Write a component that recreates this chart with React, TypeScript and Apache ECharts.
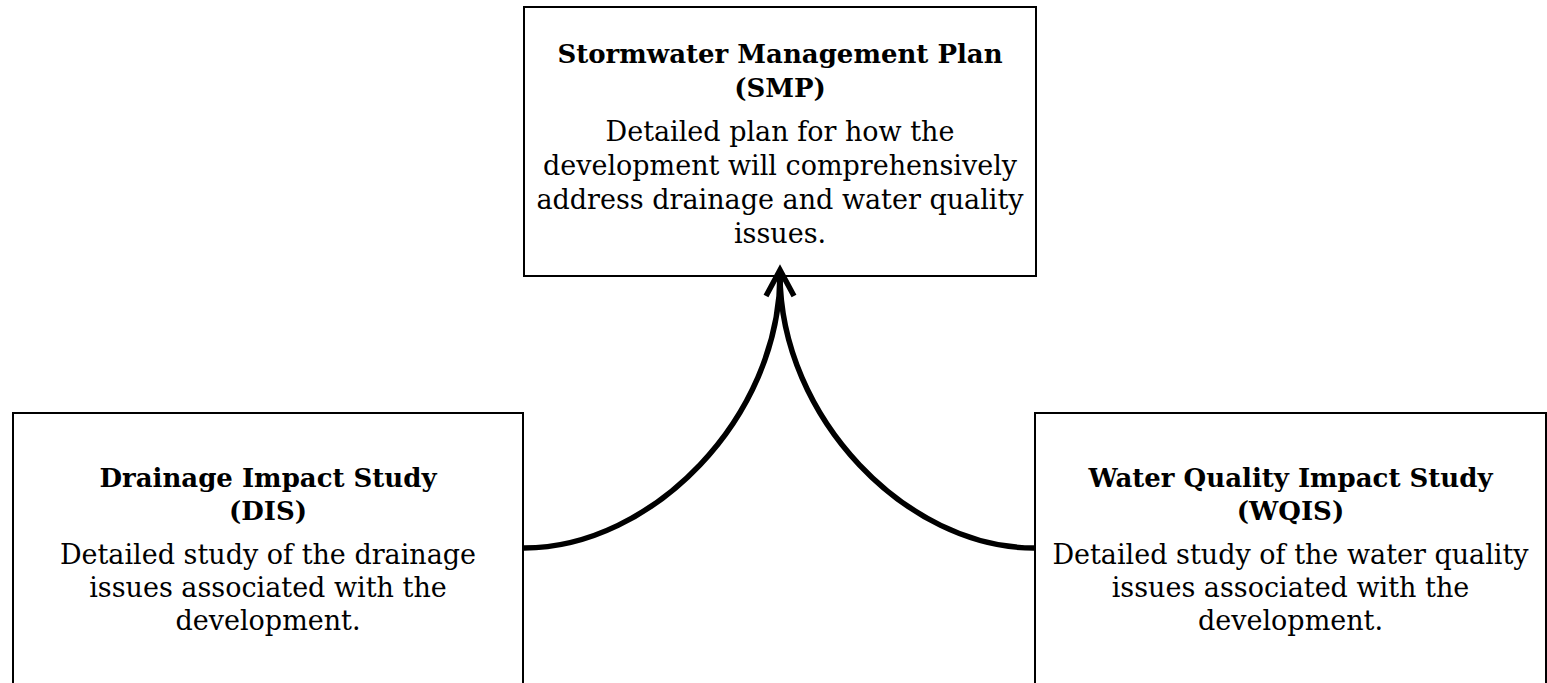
import React, { useEffect, useRef } from "react";
import * as echarts from "echarts";

// Diagram content
const nodeIds = ["SMP", "DIS", "WQIS"];
const nodeTitles = ["Stormwater Management Plan", "Drainage Impact Study", "Water Quality Impact Study"];
const nodeAbbr = ["(SMP)", "(DIS)", "(WQIS)"];
const nodeBodies = [
  ["Detailed plan for how the", "development will comprehensively", "address drainage and water quality", "issues."],
  ["Detailed study of the drainage", "issues associated with the", "development."],
  ["Detailed study of the water quality", "issues associated with the", "development."],
];
const links = [
  ["DIS", "SMP"],
  ["WQIS", "SMP"],
];

// layout (pixels): title/body = centre of first line
const boxes: Record<string, { x: number; y: number; w: number; h: number; title: number; body: number; lh: number }> = {
  SMP: { x: 524, y: 7, w: 512, h: 269, title: 54, body: 131, lh: 34 },
  DIS: { x: 13, y: 413, w: 510, h: 300, title: 478, body: 554, lh: 33 },
  WQIS: { x: 1035, y: 413, w: 511, h: 300, title: 478, body: 554, lh: 33 },
};

export default function App() {
  const ref = useRef<HTMLDivElement>(null);
  useEffect(() => {
    if (!ref.current) return;
    const chart = echarts.init(ref.current, null, { renderer: "svg" });
    const elements: any[] = [];
    nodeIds.forEach((id, i) => {
      const b = boxes[id];
      const cx = b.x + b.w / 2;
      elements.push({
        type: "rect",
        shape: { x: b.x, y: b.y, width: b.w, height: b.h },
        style: { fill: "#fff", stroke: "#000", lineWidth: 2 },
      });
      elements.push({
        type: "text",
        x: cx,
        y: b.title - b.lh / 2,
        style: {
          text: nodeTitles[i] + "\n" + nodeAbbr[i],
          align: "center",
          verticalAlign: "top",
          font: `bold 26px "DejaVu Serif"`,
          lineHeight: b.lh,
          fill: "#000",
        },
        z: 5,
      });
      elements.push({
        type: "text",
        x: cx,
        y: b.body - b.lh / 2,
        style: {
          text: nodeBodies[i].join("\n"),
          align: "center",
          verticalAlign: "top",
          font: `27px "DejaVu Serif"`,
          lineHeight: b.lh,
          fill: "#000",
        },
        z: 5,
      });
    });
    links.forEach(([from, to]) => {
      const s = boxes[from];
      const t = boxes[to];
      const tx = t.x + t.w / 2;
      const ty = t.y + t.h;
      const fromLeft = s.x < t.x;
      const sx = fromLeft ? s.x + s.w + 1 : s.x - 1;
      const sy = 548;
      elements.push({
        type: "bezierCurve",
        shape: {
          x1: sx,
          y1: sy,
          cpx1: sx + (tx - sx) * 0.5,
          cpy1: sy,
          cpx2: tx,
          cpy2: sy - (sy - ty) * 0.48,
          x2: tx,
          y2: ty - 2,
        },
        style: { stroke: "#000", lineWidth: 5.5, fill: null },
        z: 10,
      });
    });
    const tip = boxes.SMP;
    const tx = tip.x + tip.w / 2;
    const ty = tip.y + tip.h - 6;
    elements.push({
      type: "polyline",
      shape: { points: [[tx - 14, ty + 26], [tx, ty], [tx + 14, ty + 26]] },
      style: { stroke: "#000", lineWidth: 5.5, fill: null, lineJoin: "miter" },
      z: 11,
    });
    chart.setOption({
      animation: false,
      backgroundColor: "#fff",
      graphic: { elements },
    });
    return () => chart.dispose();
  }, []);
  return (
    <div
      ref={ref}
      style={{ position: "fixed", left: 0, top: 0, width: 1547, height: 683, background: "#fff" }}
    />
  );
}
